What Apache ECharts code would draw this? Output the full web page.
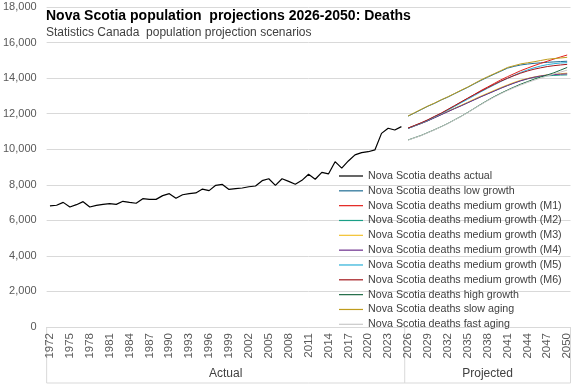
<!DOCTYPE html>
<html><head><meta charset="utf-8">
<script src="https://cdn.jsdelivr.net/npm/echarts@6/dist/echarts.min.js"></script>
<style>html,body{margin:0;padding:0;background:#fff}#c{width:576px;height:384px}</style>
</head><body><div id="c"></div>
<script>
const years = [];
for (let y = 1972; y <= 2050; y++) years.push(String(y));

const groupLabels = ['Actual', 'Projected'];

// 1972-2025
const actual = [6810,6850,7010,6750,6880,7050,6750,6840,6900,6940,
  6900,7070,7010,6960,7220,7180,7180,7390,7500,7240,
  7440,7500,7540,7760,7670,7970,8020,7740,7780,7820,
  7890,7930,8230,8340,7970,8340,8190,8030,8250,8590,
  8310,8700,8610,9300,8940,9340,9680,9810,9860,9960,
  10890,11180,11080,11270];

// 2026-2050
const lowGrowth = [11860,12040,12230,12420,12580,12770,12930,13120,13300,13480,13680,13870,14050,14220,14390,14560,14660,14740,14790,14830,14860,14890,14910,14930,14950];
const mediumM1 = [11180,11330,11480,11640,11830,12010,12220,12430,12650,12860,13080,13300,13500,13700,13900,14080,14250,14420,14560,14700,14830,14950,15070,15190,15300];
const mediumM2 = [11175,11315,11455,11605,11780,11950,12120,12290,12450,12620,12790,12960,13120,13280,13440,13590,13730,13860,13960,14040,14090,14130,14150,14170,14180];
const mediumM3 = [11180,11320,11460,11610,11790,11960,12130,12300,12470,12640,12820,12990,13150,13310,13470,13620,13760,13880,13980,14060,14130,14180,14220,14250,14280];
const mediumM4 = [11170,11310,11450,11600,11770,11940,12110,12280,12440,12610,12780,12950,13110,13270,13430,13580,13720,13850,13960,14050,14120,14170,14200,14220,14240];
const mediumM5 = [11170,11320,11470,11630,11820,12000,12200,12400,12610,12810,13020,13230,13430,13620,13810,13990,14160,14320,14460,14580,14680,14760,14810,14850,14870];
const mediumM6 = [11190,11340,11490,11660,11850,12030,12240,12450,12660,12870,13070,13270,13460,13650,13830,13990,14140,14280,14400,14500,14580,14650,14700,14740,14775];
const highGrowth = [10520,10650,10780,10940,11100,11270,11450,11650,11850,12070,12300,12530,12750,12960,13150,13330,13500,13660,13800,13940,14060,14180,14300,14450,14600];
const slowAging = [11870,12060,12250,12430,12600,12780,12950,13130,13320,13500,13700,13900,14080,14250,14420,14600,14700,14800,14860,14920,14990,15060,15100,15130,15170];
const fastAging = [10510,10640,10770,10930,11090,11260,11440,11640,11840,12060,12290,12510,12730,12930,13120,13300,13460,13610,13750,13880,14000,14120,14230,14340,14450];

const FONT = '"Liberation Sans", Arial, sans-serif';
const chart = echarts.init(document.getElementById('c'), null, {renderer: 'canvas'});
const pad = arr => Array(actual.length).fill(null).concat(arr);

const defs = [
  ['Nova Scotia deaths actual', actual, '#000000', 1.2],
  ['Nova Scotia deaths low growth', pad(lowGrowth), '#1e6c93', 1],
  ['Nova Scotia deaths medium growth (M1)', pad(mediumM1), '#e3201b', 1],
  ['Nova Scotia deaths medium growth (M2)', pad(mediumM2), '#1a9f86', 1],
  ['Nova Scotia deaths medium growth (M3)', pad(mediumM3), '#f2c12e', 1],
  ['Nova Scotia deaths medium growth (M4)', pad(mediumM4), '#6b2d8c', 1],
  ['Nova Scotia deaths medium growth (M5)', pad(mediumM5), '#2bb0d8', 1],
  ['Nova Scotia deaths medium growth (M6)', pad(mediumM6), '#a3161b', 1],
  ['Nova Scotia deaths high growth', pad(highGrowth), '#1f6b45', 1],
  ['Nova Scotia deaths slow aging', pad(slowAging), '#bf9c1c', 1],
  ['Nova Scotia deaths fast aging', pad(fastAging), '#c9c9c9', 1]
];

chart.setOption({
  animation: false,
  textStyle: {fontFamily: FONT},
  title: [
    {text: 'Nova Scotia population  projections 2026-2050: Deaths', left: 41, top: 4,
     textStyle: {fontSize: 14, fontWeight: 'bold', color: '#000', fontFamily: FONT}},
    {text: 'Statistics Canada  population projection scenarios', left: 41, top: 22,
     textStyle: {fontSize: 12, fontWeight: 'normal', color: '#404040', fontFamily: FONT}}
  ],
  grid: {left: 45.7, right: 5.5, top: 7, bottom: 57, containLabel: false},
  xAxis: {
    type: 'category', data: years, boundaryGap: true,
    axisLine: {lineStyle: {color: '#d9d9d9', width: 1}},
    axisTick: {show: false},
    axisLabel: {interval: 2, rotate: 90, fontSize: 11.5, color: '#595959', margin: 6, fontFamily: FONT}
  },
  yAxis: {
    type: 'value', min: 0, max: 18000, interval: 2000,
    axisLine: {show: false}, axisTick: {show: false},
    splitLine: {lineStyle: {color: '#d9d9d9', width: 1}},
    axisLabel: {formatter: v => v.toLocaleString('en-US'), fontSize: 11, color: '#595959', margin: 10, fontFamily: FONT}
  },
  legend: {
    orient: 'vertical', left: 334, top: 165.5, padding: 5,
    icon: 'rect', itemWidth: 24, itemHeight: 1.2, itemGap: 3.83, itemTextGap: 3,
    textStyle: {fontSize: 10.7, lineHeight: 11, color: '#404040', fontFamily: FONT},
    data: defs.map(d => d[0])
  },
  series: defs.map(d => ({
    name: d[0], type: 'line', data: d[1], symbol: 'none', connectNulls: false,
    lineStyle: {color: d[2], width: d[3]}, itemStyle: {color: d[2]}
  }))
});

const px = v => chart.convertToPixel({xAxisIndex: 0}, v);
const y0 = chart.convertToPixel({yAxisIndex: 0}, 0);
const band = px('1973') - px('1972');
const xL = px('1972') - band / 2;
const xS = (px('2025') + px('2026')) / 2;
const xR = px('2050') + band / 2;
const yB = y0 + 56;
const lineStyle = {stroke: '#d9d9d9', lineWidth: 1};
chart.setOption({
  graphic: [
    {type: 'line', shape: {x1: xL, y1: y0, x2: xL, y2: yB}, style: lineStyle},
    {type: 'line', shape: {x1: xS, y1: y0, x2: xS, y2: yB}, style: lineStyle},
    {type: 'line', shape: {x1: xR, y1: y0, x2: xR, y2: yB}, style: lineStyle},
    {type: 'line', shape: {x1: xL, y1: yB, x2: xR, y2: yB}, style: lineStyle},
    {type: 'text', x: (xL + xS) / 2, y: yB - 9.5, style: {text: groupLabels[0], fill: '#404040', font: '12px ' + FONT, align: 'center', verticalAlign: 'middle'}},
    {type: 'text', x: (xS + xR) / 2, y: yB - 9.5, style: {text: groupLabels[1], fill: '#404040', font: '12px ' + FONT, align: 'center', verticalAlign: 'middle'}}
  ]
});
</script>
</body></html>
